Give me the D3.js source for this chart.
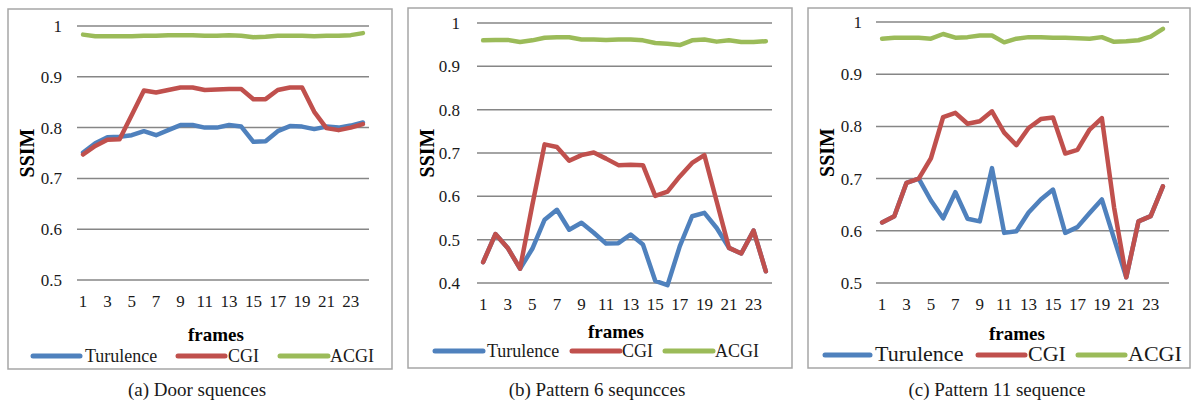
<!DOCTYPE html>
<html>
  <head>
    <meta charset="utf-8">
    <script src="https://d3js.org/d3.v7.min.js"></script>
    <style>
      body { margin:0; background:#fff; }
    </style>
  </head>
  <body>
    <script type="text/javascript">
      var frames = [1,2,3,4,5,6,7,8,9,10,11,12,13,14,15,16,17,18,19,20,21,22,23,24];
      var frameTicks = [1,3,5,7,9,11,13,15,17,19,21,23];
      var seriesNames = ["Turulence","CGI","ACGI"];

      // (a) Door
      var doorTur = [0.751,0.769,0.781,0.782,0.785,0.793,0.785,0.795,0.805,0.805,0.800,0.800,
                     0.805,0.802,0.772,0.773,0.793,0.803,0.802,0.797,0.802,0.800,0.804,0.810];
      var doorCGI = [0.747,0.764,0.776,0.777,0.825,0.873,0.869,0.874,0.879,0.879,0.874,0.875,
                     0.876,0.876,0.856,0.856,0.874,0.879,0.879,0.831,0.799,0.795,0.800,0.807];
      var doorACGI = [0.983,0.980,0.980,0.980,0.980,0.981,0.981,0.982,0.982,0.982,0.981,0.981,
                      0.982,0.981,0.978,0.979,0.981,0.981,0.981,0.980,0.981,0.981,0.982,0.986];
      var doorTicks = [0.5,0.6,0.7,0.8,0.9,1];

      // (b) Pattern 6
      var p6Tur = [0.448,0.513,0.481,0.433,0.479,0.546,0.569,0.523,0.539,0.516,0.491,0.492,
                   0.512,0.489,0.405,0.395,0.485,0.554,0.562,0.527,0.481,0.468,0.521,0.427];
      var p6CGI = [0.448,0.513,0.481,0.433,0.580,0.720,0.714,0.682,0.695,0.701,0.687,0.672,
                   0.673,0.672,0.601,0.611,0.646,0.677,0.695,0.588,0.481,0.468,0.521,0.427];
      var p6ACGI = [0.960,0.961,0.961,0.956,0.960,0.966,0.967,0.967,0.962,0.962,0.961,0.962,
                    0.962,0.960,0.954,0.952,0.949,0.960,0.962,0.957,0.960,0.956,0.956,0.958];
      var p6Ticks = [0.4,0.5,0.6,0.7,0.8,0.9,1];

      // (c) Pattern 11
      var p11Tur = [0.616,0.628,0.692,0.700,0.658,0.624,0.674,0.623,0.618,0.720,0.596,0.599,
                    0.635,0.660,0.679,0.596,0.607,0.634,0.660,0.585,0.511,0.618,0.628,0.685];
      var p11CGI = [0.616,0.628,0.692,0.700,0.739,0.818,0.826,0.805,0.810,0.829,0.788,0.764,
                    0.797,0.814,0.817,0.748,0.755,0.794,0.816,0.645,0.511,0.618,0.628,0.685];
      var p11ACGI = [0.968,0.970,0.970,0.970,0.968,0.977,0.970,0.971,0.974,0.974,0.961,0.968,
                     0.971,0.971,0.970,0.970,0.969,0.968,0.971,0.962,0.963,0.965,0.972,0.987];
      var p11Ticks = [0.5,0.6,0.7,0.8,0.9,1];

      var colors = ["#4f81bd","#c0504d","#9bbb59"];
      var serif = "Liberation Serif";

      var panels = [
        {series:[doorTur,doorCGI,doorACGI], ticks:doorTicks, caption:"(a) Door squences",
         box:[8,9,392,369], px:[77,369], py:[280,26], tickX:62, tickY:307, ssimX:27,
         framesX:216, framesY:341, legY:362, legFont:18,
         legLines:[[33,80],[178,225],[280,328]], legText:[85,228,330], capX:197, capY:396},
        {series:[p6Tur,p6CGI,p6ACGI], ticks:p6Ticks, caption:"(b) Pattern 6 sequncces",
         box:[408,8,792,368], px:[477,772], py:[283,23], tickX:460, tickY:310, ssimX:427,
         framesX:616, framesY:338, legY:357, legFont:18,
         legLines:[[435,483],[572,620],[665,713]], legText:[487,622,715], capX:597, capY:396},
        {series:[p11Tur,p11CGI,p11ACGI], ticks:p11Ticks, caption:"(c) Pattern 11 sequence",
         box:[808,8,1190,368], px:[876,1169], py:[283,22], tickX:862, tickY:310, ssimX:827,
         framesX:1017, framesY:340, legY:361, legFont:22,
         legLines:[[825,870],[978,1025],[1078,1125]], legText:[875,1028,1128], capX:997, capY:396}
      ];

      var svg = d3.select("body").append("svg")
        .attr("width",1191)
        .attr("height",401)
        .attr("font-family",serif);

      panels.forEach(function(p){
        var g = svg.append("g");
        var x = d3.scalePoint().domain(frames).range(p.px).padding(0.5);
        var y = d3.scaleLinear().domain([p.ticks[0],1]).range(p.py);

        g.append("rect")
          .attr("x",p.box[0]).attr("y",p.box[1])
          .attr("width",p.box[2]-p.box[0]).attr("height",p.box[3]-p.box[1])
          .attr("fill","none").attr("stroke","#a6a6a6").attr("stroke-width",1.5);

        // gridlines + y labels
        g.selectAll(".grid").data(p.ticks).enter().append("line")
          .attr("x1",p.px[0]).attr("x2",p.px[1])
          .attr("y1",d => y(d)).attr("y2",d => y(d))
          .attr("stroke","#868686").attr("stroke-width",1.5);

        g.selectAll(".ytick").data(p.ticks).enter().append("text")
          .attr("x",p.tickX).attr("y",d => y(d)+6)
          .attr("text-anchor","end")
          .attr("font-family",serif).attr("fill","#1a1a1a")
          .style("font-size","17px")
          .text(d => d3.format("")(d));

        g.selectAll(".xtick").data(frameTicks).enter().append("text")
          .attr("x",d => x(d)).attr("y",p.tickY)
          .attr("text-anchor","middle")
          .attr("font-family",serif).attr("fill","#1a1a1a")
          .style("font-size","17px")
          .text(d => d);

        var line = d3.line()
          .x((d,i) => x(frames[i]))
          .y(d => y(d));

        p.series.forEach(function(s,k){
          g.append("path").datum(s)
            .attr("fill","none")
            .attr("stroke",colors[k])
            .attr("stroke-width",4.5)
            .attr("stroke-linejoin","round")
            .attr("stroke-linecap","round")
            .attr("d",line);
        });

        var cy = (p.py[0]+p.py[1])/2;
        g.append("text")
          .attr("transform","translate(" + (p.ssimX+7) + "," + cy + ") rotate(-90)")
          .attr("text-anchor","middle")
          .attr("font-family",serif).attr("fill","#000")
          .style("font-size","20px").style("font-weight","bold")
          .text("SSIM");

        g.append("text")
          .attr("x",p.framesX).attr("y",p.framesY)
          .attr("text-anchor","middle")
          .attr("font-family",serif).attr("fill","#000")
          .style("font-size","19px").style("font-weight","bold")
          .text("frames");

        seriesNames.forEach(function(n,k){
          g.append("line")
            .attr("x1",p.legLines[k][0]).attr("x2",p.legLines[k][1])
            .attr("y1",p.legY-6).attr("y2",p.legY-6)
            .attr("stroke",colors[k]).attr("stroke-width",5)
            .attr("stroke-linecap","round");
          g.append("text")
            .attr("x",p.legText[k]).attr("y",p.legY)
            .attr("font-family",serif).attr("fill","#1a1a1a")
            .style("font-size",p.legFont+"px")
            .text(n);
        });

        g.append("text")
          .attr("x",p.capX).attr("y",p.capY)
          .attr("text-anchor","middle")
          .attr("font-family",serif).attr("fill","#1a1a1a")
          .style("font-size","19px")
          .text(p.caption);
      });
    </script>
  </body>
</html>
